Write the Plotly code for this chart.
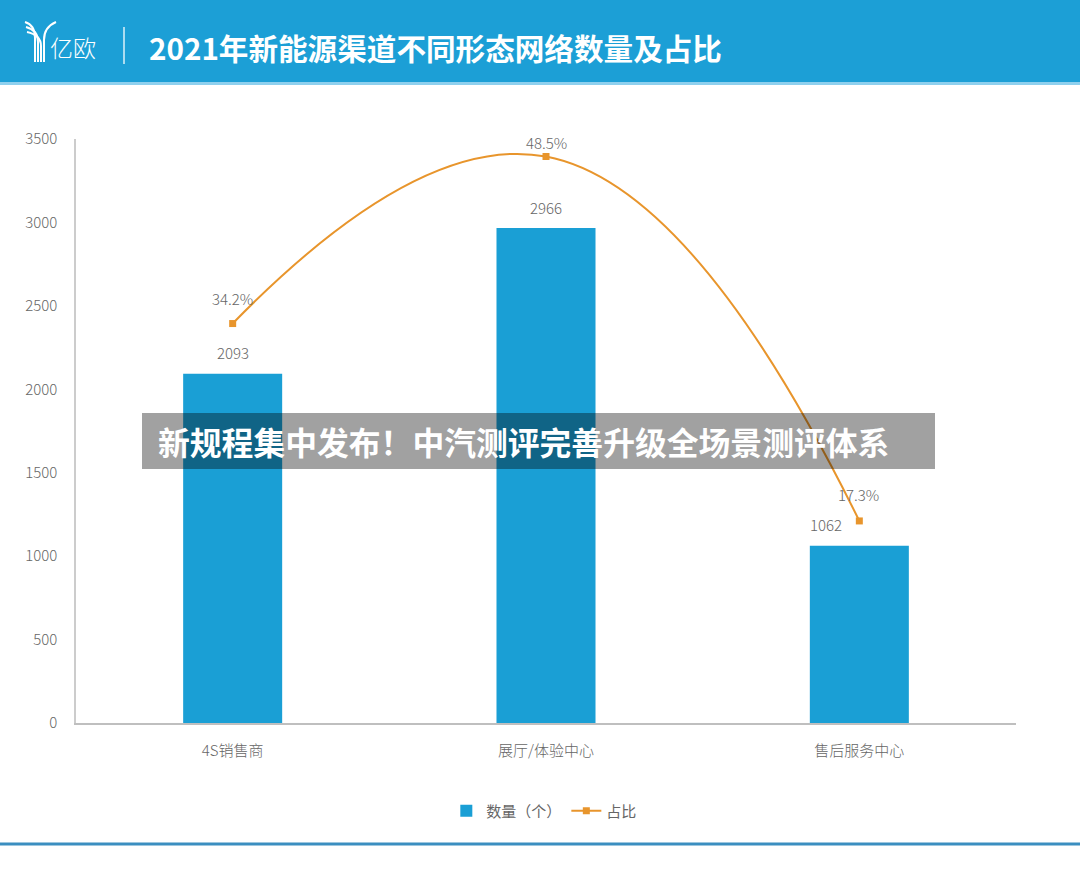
import plotly.graph_objects as go

W, H = 1080, 884

categories = ["4S销售商", "展厅/体验中心", "售后服务中心"]
counts = [2093, 2966, 1062]
shares = [34.2, 48.5, 17.3]
share_labels = ["34.2%", "48.5%", "17.3%"]
y_ticks = [0, 500, 1000, 1500, 2000, 2500, 3000, 3500]

title_text = "2021年新能源渠道不同形态网络数量及占比"
brand_text = "亿欧"
overlay_text = "新规程集中发布！中汽测评完善升级全场景测评体系"

BLUE = "#1a9fd5"
ORANGE = "#e8952c"
GRAY = "#666666"
FONT = "Noto Sans CJK SC"


def px(x):
    return x / W


def py(y):
    return 1 - y / H


fig = go.Figure()
fig.add_trace(go.Bar(
    x=categories, y=counts, name="数量（个）",
    marker=dict(color=BLUE, line=dict(width=0)), width=0.316,
))
fig.add_trace(go.Scatter(
    x=categories, y=shares, name="占比", yaxis="y2",
    mode="lines+markers",
    line=dict(color=ORANGE, width=2, shape="spline", smoothing=1.3),
    marker=dict(symbol="square", size=7, color=ORANGE),
))

annotations = []
# bar value labels
bar_xshift = [0, 0, -33]
for c, v, xs in zip(categories, counts, bar_xshift):
    annotations.append(dict(x=c, y=v, xref="x", yref="y", text=str(v),
                            showarrow=False, yshift=21, xshift=xs,
                            font=dict(family=FONT, size=15, color=GRAY, weight=300)))
# share labels
share_yshift = [25, 14, 26]
share_xshift = [0, 0, -1]
for c, v, t, ys, xs in zip(categories, shares, share_labels, share_yshift, share_xshift):
    annotations.append(dict(x=c, y=v, xref="x", yref="y2", text=t,
                            showarrow=False, yshift=ys, xshift=xs,
                            font=dict(family=FONT, size=15, color=GRAY, weight=300)))
# header title
annotations.append(dict(x=px(147), y=py(47), xref="paper", yref="paper",
                        xanchor="left", yanchor="middle", text="<b>" + title_text + "</b>",
                        showarrow=False, font=dict(family=FONT, size=29.6, color="white")))
annotations.append(dict(x=px(48), y=py(47), xref="paper", yref="paper",
                        xanchor="left", yanchor="middle", text=brand_text,
                        showarrow=False, font=dict(family=FONT, size=23, color="white", weight=300)))
# overlay banner text
annotations.append(dict(x=px(156), y=py(441), xref="paper", yref="paper",
                        xanchor="left", yanchor="middle", text="<b>" + overlay_text + "</b>",
                        showarrow=False, font=dict(family=FONT, size=31.8, color="white")))

shapes = [
    # header band
    dict(type="rect", xref="paper", yref="paper", x0=0, x1=1, y0=py(82), y1=1,
         fillcolor="#1c9fd6", line=dict(width=0), layer="below"),
    dict(type="rect", xref="paper", yref="paper", x0=0, x1=1, y0=py(85), y1=py(82),
         fillcolor="#8fd0ee", line=dict(width=0), layer="below"),
    # separator
    dict(type="line", xref="paper", yref="paper", x0=px(124), x1=px(124), y0=py(27), y1=py(64),
         line=dict(color="rgba(255,255,255,0.85)", width=1.5)),
    # bottom rule
    dict(type="line", xref="paper", yref="paper", x0=0, x1=1, y0=py(844), y1=py(844),
         line=dict(color="#3b8ec0", width=3)),
    # overlay banner
    dict(type="rect", xref="paper", yref="paper", x0=px(142), x1=px(935), y0=py(469), y1=py(413),
         fillcolor="rgba(0,0,0,0.37)", line=dict(width=0), layer="above"),
]


def path(points):
    s = "M {} {}".format(px(points[0][0]), py(points[0][1]))
    rest = points[1:]
    for i in range(0, len(rest), 2):
        (cx, cy), (ex, ey) = rest[i], rest[i + 1]
        s += " Q {} {} {} {}".format(px(cx), py(cy), px(ex), py(ey))
    return s


# stylised logo mark
logo_paths = [
    [(25, 22), (35, 25), (35, 38), (35, 50), (35, 62)],
    [(26, 27), (38, 30), (38, 42), (38, 52), (38, 62)],
    [(27, 32), (41, 35), (41, 46), (41, 54), (41, 62)],
    [(56, 22), (44, 27), (44, 40), (44, 52), (44, 62)],
]
for p in logo_paths:
    shapes.append(dict(type="path", xref="paper", yref="paper", path=path(p),
                       line=dict(color="white", width=2)))

fig.update_layout(
    width=W, height=H,
    margin=dict(l=0, r=0, t=0, b=0, pad=0, autoexpand=False),
    paper_bgcolor="white", plot_bgcolor="white",
    font=dict(family=FONT, color=GRAY),
    showlegend=True,
    legend=dict(orientation="h", x=0.504, xanchor="center", y=py(811), yanchor="middle",
                font=dict(family=FONT, size=15, color=GRAY), bgcolor="rgba(0,0,0,0)",
                traceorder="normal"),
    xaxis=dict(domain=[px(76), px(1016)], showgrid=False, showline=True, automargin=False,
               linecolor="#bfbfbf", linewidth=1.5, ticks="", ticklabelstandoff=13,
               tickfont=dict(family=FONT, size=15, color=GRAY, weight=300), fixedrange=True),
    yaxis=dict(domain=[py(723), py(139)], range=[0, 3500], tickvals=y_ticks, automargin=False,
               showgrid=False, showline=True, linecolor="#cccccc", linewidth=1.5,
               ticks="", ticklabelstandoff=14, zeroline=False,
               tickfont=dict(family=FONT, size=15, color=GRAY, weight=300)),
    yaxis2=dict(overlaying="y", side="right", range=[0, 50], visible=False, automargin=False),
    annotations=annotations,
    shapes=shapes,
)

fig.write_html("out.html")
